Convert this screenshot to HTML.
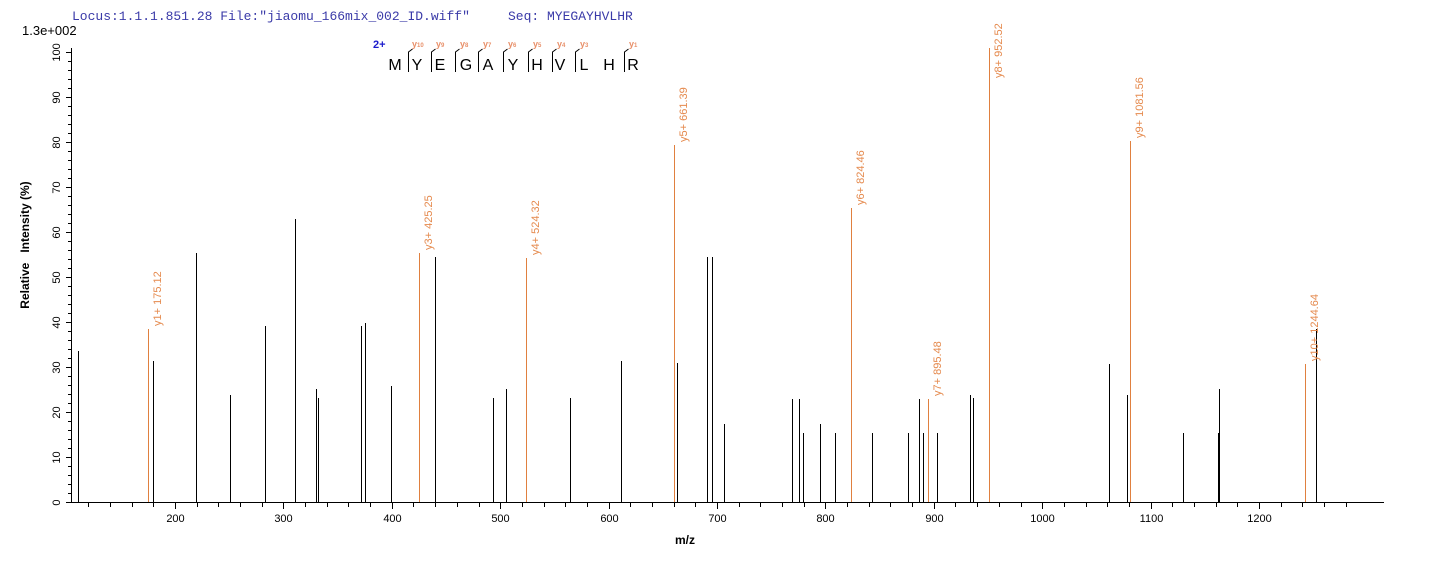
<!DOCTYPE html>
<html><head><meta charset="utf-8"><style>
html,body{margin:0;padding:0;background:#fff;}
svg{display:block;}
</style></head><body>
<svg width="1436" height="562" viewBox="0 0 1436 562" xmlns="http://www.w3.org/2000/svg">
<rect width="1436" height="562" fill="#fff"/>
<text x="72" y="20" font-family="Liberation Mono, monospace" font-size="13" fill="#3a3aa8">Locus:1.1.1.851.28 File:"jiaomu_166mix_002_ID.wiff"</text>
<text x="508" y="20" font-family="Liberation Mono, monospace" font-size="13" fill="#3a3aa8">Seq: MYEGAYHVLHR</text>
<text x="22" y="35" font-family="Liberation Sans, sans-serif" font-size="13" fill="#000">1.3e+002</text>

<text x="373" y="48" font-family="Liberation Sans, sans-serif" font-size="11" font-weight="bold" fill="#1a1acc">2+</text>
<g font-family="Liberation Sans, sans-serif" font-size="16" fill="#000" text-anchor="middle">
<text x="395" y="70">M</text><text x="417" y="70">Y</text><text x="440" y="70">E</text><text x="466" y="70">G</text><text x="488" y="70">A</text><text x="513" y="70">Y</text><text x="537" y="70">H</text><text x="560" y="70">V</text><text x="584" y="70">L</text><text x="609" y="70">H</text><text x="633" y="70">R</text>
</g>
<g stroke="#000" stroke-width="1" fill="none">
<path d="M408.5 72V52l4 -3"/><path d="M431.5 72V52l4 -3"/><path d="M455.5 72V52l4 -3"/><path d="M478.5 72V52l4 -3"/><path d="M503.5 72V52l4 -3"/><path d="M528.5 72V52l4 -3"/><path d="M552.5 72V52l4 -3"/><path d="M575.5 72V52l4 -3"/><path d="M624.5 72V52l4 -3"/>
</g>
<g font-family="Liberation Sans, sans-serif" font-size="9" font-weight="bold" fill="#e8906a">
<text x="412" y="47">y<tspan font-size="6">10</tspan></text>
<text x="436" y="47">y<tspan font-size="6">9</tspan></text>
<text x="460" y="47">y<tspan font-size="6">8</tspan></text>
<text x="483" y="47">y<tspan font-size="6">7</tspan></text>
<text x="508" y="47">y<tspan font-size="6">6</tspan></text>
<text x="533" y="47">y<tspan font-size="6">5</tspan></text>
<text x="557" y="47">y<tspan font-size="6">4</tspan></text>
<text x="580" y="47">y<tspan font-size="6">3</tspan></text>
<text x="629" y="47">y<tspan font-size="6">1</tspan></text>
</g>

<g stroke="#000" stroke-width="1" fill="none" shape-rendering="crispEdges">
<path d="M71.5 48V502.5H1384"/>
<path d="M66 502.5h5M66 457.5h5M66 412.5h5M66 367.5h5M66 322.5h5M66 277.5h5M66 232.5h5M66 187.5h5M66 142.5h5M66 97.5h5M66 52.5h5"/>
<path d="M68 493.5h3M68 484.5h3M68 475.5h3M68 466.5h3M68 448.5h3M68 439.5h3M68 430.5h3M68 421.5h3M68 403.5h3M68 394.5h3M68 385.5h3M68 376.5h3M68 358.5h3M68 349.5h3M68 340.5h3M68 331.5h3M68 313.5h3M68 304.5h3M68 295.5h3M68 286.5h3M68 268.5h3M68 259.5h3M68 250.5h3M68 241.5h3M68 223.5h3M68 214.5h3M68 205.5h3M68 196.5h3M68 178.5h3M68 169.5h3M68 160.5h3M68 151.5h3M68 133.5h3M68 124.5h3M68 115.5h3M68 106.5h3M68 88.5h3M68 79.5h3M68 70.5h3M68 61.5h3"/>
</g>
<g id="xt" stroke="#000" stroke-width="1" shape-rendering="crispEdges"></g>
<g font-family="Liberation Sans, sans-serif" font-size="11" fill="#000" text-anchor="middle" id="xl"></g>
<g font-family="Liberation Sans, sans-serif" font-size="11" fill="#000" text-anchor="middle" id="yl"></g>
<g id="pk" shape-rendering="crispEdges"></g>
<g font-family="Liberation Sans, sans-serif" font-size="11" fill="#e58a4e" id="lb"></g>

<text x="685" y="544" font-family="Liberation Sans, sans-serif" font-size="12" font-weight="bold" text-anchor="middle">m/z</text>
<text transform="translate(29 245) rotate(-90)" font-family="Liberation Sans, sans-serif" font-size="12" font-weight="bold" text-anchor="middle" xml:space="preserve">Relative   Intensity (%)</text>
</svg>
<script>
var NS="http://www.w3.org/2000/svg";
function el(p,t,a,txt){var e=document.createElementNS(NS,t);for(var k in a)e.setAttribute(k,a[k]);if(txt!=null)e.textContent=txt;document.getElementById(p).appendChild(e);return e;}
function X(m){return 175+(m-200)*1.084;}
for(var m=120;m<=1280;m+=20){var x=Math.round(X(m))+0.5;if(x>1380)break;var maj=(m%100===0);el("xt","line",{x1:x,x2:x,y1:502,y2:maj?509:507});if(maj&&m<=1200)el("xl","text",{x:x,y:522},String(m));}
for(var v=0;v<=100;v+=10){var y=502.5-v*4.5;el("yl","text",{transform:"translate(60 "+y+") rotate(-90)"},String(v));}
var P=[[78,351,0],[148,329,1],[153,361,0],[196,253,0],[230,395,0],[265,326,0],[295,219,0],[316,389,0],[318,398,0],[361,326,0],[365,323,0],[391,386,0],[419,253,1],[435,257,0],[493,398,0],[506,389,0],[526,258,1],[570,398,0],[621,361,0],[674,145,1],[677,363,0],[707,257,0],[712,257,0],[724,424,0],[792,399,0],[799,399,0],[803,433,0],[820,424,0],[835,433,0],[851,208,1],[872,433,0],[908,433,0],[919,399,0],[923,433,0],[928,399,1],[937,433,0],[970,395,0],[973,398,0],[989,48,1],[1109,364,0],[1127,395,0],[1130,141,1],[1183,433,0],[1218,433,0],[1219,389,0],[1305,364,1],[1316,329,0]];
P.forEach(function(p){el("pk","line",{x1:p[0]+0.5,x2:p[0]+0.5,y1:p[1],y2:502,stroke:p[2]?"#e0803f":"#000","stroke-width":1});});
var L=[[148,329,"y1+ 175.12"],[419,253,"y3+ 425.25"],[526,258,"y4+ 524.32"],[674,145,"y5+ 661.39"],[851,208,"y6+ 824.46"],[928,399,"y7+ 895.48"],[989,81,"y8+ 952.52"],[1130,141,"y9+ 1081.56"],[1305,364,"y10+ 1244.64"]];
L.forEach(function(l){el("lb","text",{transform:"translate("+(l[0]+13)+" "+(l[1]-3)+") rotate(-90)"},l[2]);});
</script>
</body></html>
